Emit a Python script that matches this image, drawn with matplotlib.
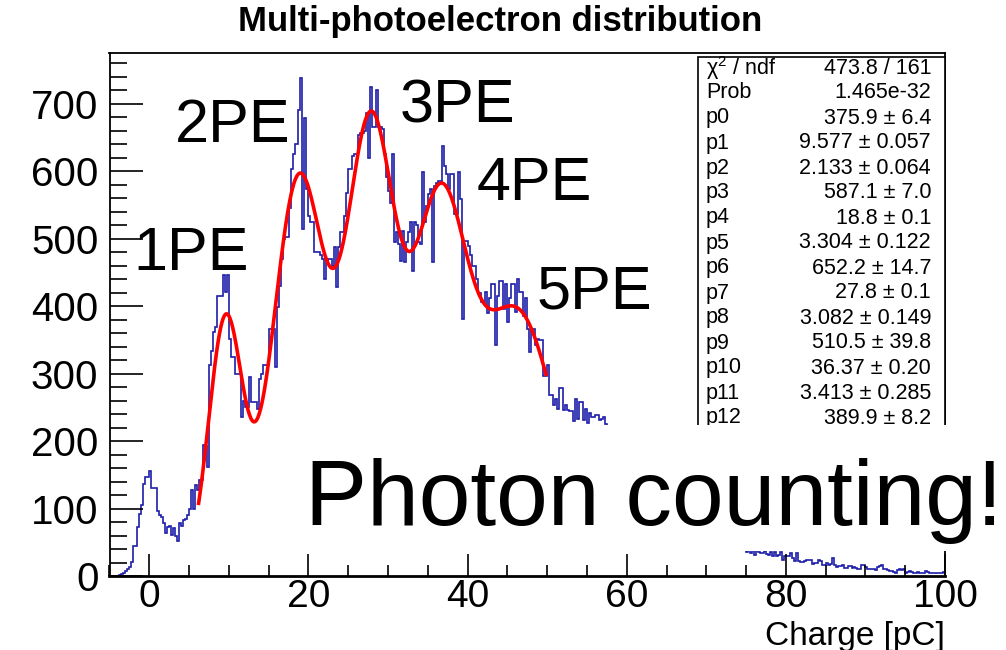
import numpy as np
import matplotlib.pyplot as plt
from matplotlib.patches import Rectangle
from matplotlib.ticker import MultipleLocator

plt.rcParams['font.family'] = ['Liberation Sans', 'DejaVu Sans']
plt.rcParams['mathtext.fontset'] = 'custom'
plt.rcParams['mathtext.rm'] = 'Liberation Sans'
plt.rcParams['mathtext.it'] = 'Liberation Sans:italic'

# histogram: 0.25 pC bins from -5 to 100 pC
bin_width = 0.25
x_start = -5.0

counts_pedestal = [
    0, 0, 0, 0, 0, 1, 3, 5,            # -5 .. -3
    8, 11, 14, 21, 44, 45, 73, 92,     # -3 .. -1
    105, 137, 146, 146, 155, 131, 131, 131,
    97, 90, 88, 78, 63, 73, 74, 61,
    71, 60, 52, 78, 74, 83, 85, 90,
    100, 127, 100, 135, 127, 142, 142, 194,   # 5 .. 7
]
counts_1pe_2pe = [
    192, 162, 313, 334, 362, 369, 415, 415,
    415, 446, 421, 446, 351, 325, 325, 300,
    300, 300, 236, 260, 251, 251, 295, 258,
    258, 258, 248, 292, 300, 312, 312, 312,
    366, 366, 366, 310, 399, 430, 470, 499,
    502, 502, 546, 603, 625, 640, 640, 691,
    738, 514, 679, 573, 534, 524, 524, 480,
    480, 480, 475, 470, 440, 465, 470, 470,
    460, 487, 428, 487, 510, 510, 534, 568,   # 23 .. 25
]
counts_3pe_4pe = [
    603, 603, 622, 625, 625, 654, 657, 657,
    660, 686, 620, 725, 665, 665, 720, 666,
    666, 662, 625, 591, 570, 553, 625, 495,
    510, 492, 467, 511, 466, 495, 510, 524,
    452, 524, 520, 495, 492, 598, 524, 549,
    566, 573, 465, 578, 583, 585, 585, 637,
    608, 595, 573, 595, 595, 536, 536, 598,
    558, 381, 497, 497, 489, 475, 460, 460,   # 39 .. 41
]
counts_5pe = [
    440, 418, 420, 406, 406, 421, 389, 412,
    433, 433, 342, 415, 437, 437, 396, 433,
    376, 412, 433, 433, 391, 440, 421, 421,
    386, 412, 366, 332, 366, 366, 342, 351,
    349, 349, 297, 297, 312, 268, 268, 253,
    263, 248, 278, 278, 246, 253, 246, 244,
    244, 229, 263, 233, 258, 258, 231, 248,
    226, 241, 236, 236, 238, 238, 231, 233,
    236, 225, 222, 220,                        # 57 .. 58
]
counts_hidden = [
    215, 218, 208, 200, 205, 196, 190, 198,
    185, 180, 186, 172, 170, 176, 160, 158,
    162, 150, 148, 145, 140, 138, 142, 130,
    128, 125, 130, 118, 115, 120, 110, 108,
    104, 100, 105, 96, 95, 90, 88, 92,
    84, 80, 82, 76, 74, 72, 70, 68,
    66, 64, 62, 65, 60, 58, 56, 57,
    54, 52, 50, 51, 48, 47, 45, 44,
    43, 42, 44, 40,                            # 74 .. 75
]
counts_tail = [
    36, 40, 34, 38, 31, 38, 35, 34,
    34, 37, 33, 31, 35, 30, 36, 29,
    31, 35, 24, 30, 29, 30, 34, 26,
    22, 34, 22, 21, 21, 22, 23, 24,
    24, 18, 20, 19, 23, 22, 16, 17,
    19, 17, 18, 27, 16, 14, 15, 15,
    16, 12, 12, 15, 15, 12, 13, 12,
    11, 11, 17, 16, 13, 11, 10, 11,
    10, 9, 14, 15, 16, 11, 10, 9,
    8, 7, 6, 5, 9, 10, 9, 10,
    5, 6, 7, 6, 5, 5, 6, 5,
    5, 4, 7, 6, 5, 5, 5, 4,
    4, 5, 5, 6,
]

# gaussian fit parameters (last peak's mean/sigma are hidden, estimated)
fit_amp = [375.9, 587.1, 652.2, 510.5, 389.9]
fit_mean = [9.577, 18.8, 27.8, 36.37, 46.2]
fit_sigma = [2.133, 3.304, 3.082, 3.413, 5.0]
fit_lo, fit_hi = 6.2, 49.85

stat_names = ['χ$^{2}$ / ndf', 'Prob', 'p0', 'p1', 'p2', 'p3', 'p4', 'p5',
              'p6', 'p7', 'p8', 'p9', 'p10', 'p11', 'p12']
stat_values = ['473.8 / 161', '1.465e-32', '375.9 ± 6.4', '9.577 ± 0.057',
               '2.133 ± 0.064', '587.1 ± 7.0', '18.8 ± 0.1', '3.304 ± 0.122',
               '652.2 ± 14.7', '27.8 ± 0.1', '3.082 ± 0.149', '510.5 ± 39.8',
               '36.37 ± 0.20', '3.413 ± 0.285', '389.9 ± 8.2']

peak_labels = ['1PE', '2PE', '3PE', '4PE', '5PE']

counts = np.array(counts_pedestal + counts_1pe_2pe + counts_3pe_4pe
                  + counts_5pe + counts_hidden + counts_tail, dtype=float)
edges = x_start + bin_width * np.arange(len(counts) + 1)

W, H = 1006, 650
fig = plt.figure(figsize=(W / 100, H / 100), dpi=100)

# pixel layout of the frame
left, right, top, bottom = 109.5, 945, 53, 576
ax = fig.add_axes([left / W, 1 - bottom / H, (right - left) / W, (bottom - top) / H])

ax.stairs(counts, edges, color='#1e1eaa', lw=1.2, baseline=None)

xf = np.linspace(fit_lo, fit_hi, 500)
yf = np.zeros_like(xf)
for a, m, s in zip(fit_amp, fit_mean, fit_sigma):
    yf += a * np.exp(-0.5 * ((xf - m) / s) ** 2)
ax.plot(xf, yf, color='#ff0000', lw=2.6)

ax.set_xlim(-5, 100)
ax.set_ylim(0, 775)
ax.xaxis.set_major_locator(MultipleLocator(20))
ax.xaxis.set_minor_locator(MultipleLocator(5))
ax.yaxis.set_major_locator(MultipleLocator(100))
ax.yaxis.set_minor_locator(MultipleLocator(20))
ax.tick_params(which='both', direction='in', top=False, right=False,
               labelsize=29, width=1.2)
ax.tick_params(axis='x', which='major', length=16, pad=2, labelsize=28)
ax.tick_params(axis='x', which='minor', length=8)
ax.tick_params(axis='y', which='major', length=24, pad=8)
ax.tick_params(axis='y', which='minor', length=12)
for sp in ax.spines.values():
    sp.set_linewidth(1.3)
ax.spines['bottom'].set_linewidth(2)

fig.text(right / W, 1 - 645 / H, 'Charge [pC]', fontsize=24, ha='right', va='baseline')

# peak labels
label_pos = [(-2.05, 453), (3.24, 643), (31.5, 672), (41.2, 557), (48.7, 397)]
for txt, (lx, ly) in zip(peak_labels, label_pos):
    ax.text(lx, ly, txt, fontsize=44, ha='left', va='baseline')

fig.text(0.497, 1 - 22 / H, 'Multi-photoelectron distribution',
         fontsize=25, fontweight='bold', ha='center', va='center')

# stats box
sb_left, sb_top, sb_bottom = 698, 57, 490
fig.patches.append(Rectangle((sb_left / W, 1 - sb_bottom / H), (right - sb_left) / W,
                             (sb_bottom - sb_top) / H, transform=fig.transFigure,
                             facecolor='white', edgecolor='black', lw=1.2, zorder=3))
for i, (name, val) in enumerate(zip(stat_names, stat_values)):
    yy = 1 - (68 + 25 * i) / H
    fig.text(706 / W, yy, name, fontsize=15.5, ha='left', va='center', zorder=4)
    fig.text(931 / W, yy, val, fontsize=15.5, ha='right', va='center', zorder=4)

# overlay box
fig.patches.append(Rectangle((300 / W, 1 - 551 / H), (W - 300) / W, (551 - 425) / H,
                             transform=fig.transFigure, facecolor='white',
                             edgecolor='none', zorder=5))
fig.text(305 / W, 1 - 525 / H, 'Photon counting!', fontsize=67,
         ha='left', va='baseline', zorder=6)

fig.savefig('out.png', dpi=100)
